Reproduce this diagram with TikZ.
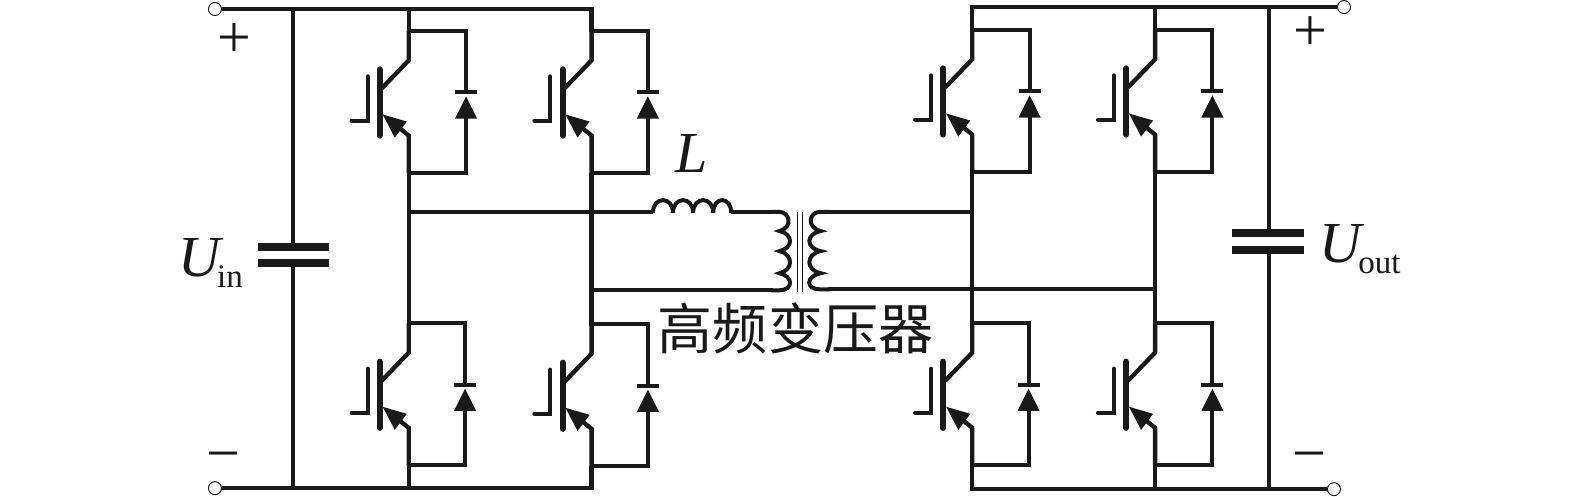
\documentclass[tikz,border=0pt]{standalone}
\usepackage{fontspec}
\setmainfont{Liberation Serif}
\newfontfamily\cjkfont{Noto Sans CJK SC}[Scale=1]
\usetikzlibrary{calc}
\tikzset{
  x=1bp,y=-1bp,
  wire/.style={line width=4.3pt,line cap=butt,line join=miter,black!90},
  loopwire/.style={line width=4pt,line join=miter,black!90},
  thickbar/.style={line width=6pt,line cap=round,black!90},
  gatewire/.style={line width=4pt,line cap=round,black!90},
  plate/.style={line width=8pt,black!90},
  terminal/.style={circle,draw=black!90,fill=white,line width=1pt,minimum size=13pt,inner sep=0pt},
  lbl/.style={inner sep=0pt,text=black!90},
  pics/igbtcell/.style args={#1}{code={
    \coordinate (-c) at (0,0);
    \coordinate (-e) at (0,163);
    \draw[wire] (0,22) -- (0,51) -- (-27,79);
    \draw[wire] (0,163) -- (0,126) -- (-10,118);
    \fill[black!90] (-26,105) -- (-2,112) -- (-14,128) -- cycle;
    \draw[thickbar] (-29,60) -- (-29,126);
    \draw[gatewire] (-41,67) -- (-41,111) -- (-57,111);
    \draw[loopwire] (-2,22) -- (#1,22) -- (#1,83);
    \draw[loopwire] (#1,108) -- (#1,163) -- (-2,163);
    \fill[black!90] (#1,87) -- (#1+11,109) -- (#1-11,109) -- cycle;
    \draw[line width=4pt,black!90] (#1-11,83) -- (#1+11,83);
  }}
}
\begin{document}
\begin{tikzpicture}
\useasboundingbox (0,0) rectangle (1568,494);
% switch cells
\pic (qa) at (407,9) {igbtcell={57}};
\pic (qb) at (589,9) {igbtcell={56}};
\pic (qc) at (407,300) {igbtcell={56}};
\pic (qd) at (589,301) {igbtcell={56}};
\pic (qe) at (968,8) {igbtcell={57}};
\pic (qf) at (1150,8) {igbtcell={57}};
\pic (qg) at (968,300) {igbtcell={56}};
\pic (qh) at (1150,300) {igbtcell={57}};
% terminals
\node[terminal] (tl1) at (214,9) {};
\node[terminal] (tl2) at (214,486) {};
\node[terminal] (tr1) at (1338,7) {};
\node[terminal] (tr2) at (1328,487) {};
% junctions
\coordinate (capl) at (292,9);
\coordinate (caplb) at (292,486);
\coordinate (capr) at (1263,7);
\coordinate (caprb) at (1263,487);
% buses
\draw[wire] (tl1) -- (591,9);
\draw[wire] (tl2) -- (591,486);
\draw[wire] (966,7) -- (tr1);
\draw[wire] (966,487) -- (tr2);
% leg verticals
\draw[wire] (qa-c) -- ($(qa-c)+(0,23)$);
\draw[wire] (qb-c) -- ($(qb-c)+(0,23)$);
\draw[wire] (968,7) -- ($(qe-c)+(0,23)$);
\draw[wire] (1150,7) -- ($(qf-c)+(0,23)$);
\draw[wire] (qa-e) -- ($(qc-c)+(0,24)$);
\draw[wire] (qb-e) -- ($(qd-c)+(0,24)$);
\draw[wire] (qe-e) -- ($(qg-c)+(0,24)$);
\draw[wire] (qf-e) -- ($(qh-c)+(0,24)$);
\draw[wire] (qc-e) -- (407,488);
\draw[wire] (qd-e) -- (589,488);
\draw[wire] (qg-e) -- (968,489);
\draw[wire] (qh-e) -- (1150,489);
% capacitors
\draw[wire] (capl) -- (292,246);
\draw[wire] (292,262) -- (caplb);
\draw[plate] (257,246) -- (328,246);
\draw[plate] (257,262) -- (328,262);
\draw[wire] (capr) -- (1263,232);
\draw[wire] (1263,249) -- (caprb);
\draw[plate] (1227,232) -- (1298,232);
\draw[plate] (1227,249) -- (1298,249);
% mid lines, inductor and transformer
\draw[wire] (405,211) -- (650,211);
\draw[wire] (587,289) -- (770,289);
\draw[loopwire] (650,212)
  .. controls (650,195) and (670,195) .. (670,212)
  .. controls (670,195) and (690,195) .. (690,212)
  .. controls (690,195) and (710,195) .. (710,212)
  .. controls (710,195) and (728,195) .. (728,212);
\draw[wire] (728,211) -- (770,211);
\draw[loopwire] (768,211) -- (776,211)
  .. controls (786,211) and (790,226) .. (776,230)
  .. controls (790,233) and (790,247) .. (776,250)
  .. controls (790,253) and (790,269) .. (776,272)
  .. controls (790,275) and (790,289) .. (776,289) -- (768,289);
\draw[loopwire] (826,211) -- (816,211)
  .. controls (806,211) and (802,226) .. (817,230)
  .. controls (802,233) and (802,247) .. (817,250)
  .. controls (802,253) and (802,269) .. (817,272)
  .. controls (802,275) and (802,288) .. (816,288) -- (826,288);
\draw[black!90,line width=1pt] (794,211) -- (794,291);
\draw[black!90,line width=1pt] (799,211) -- (799,291);
\draw[wire] (824,211) -- (970,211);
\draw[wire] (824,288) -- (1152,288);
% labels
\node[lbl,font=\fontsize{60}{60}\selectfont] (plusl) at (233,40) {+};
\node[lbl,font=\fontsize{60}{60}\selectfont] (minusl) at (222,461) {−};
\node[lbl,font=\fontsize{60}{60}\selectfont] (plusr) at (1305,33) {+};
\node[lbl,font=\fontsize{60}{60}\selectfont] (minusr) at (1304,461) {−};
\node[lbl,font=\fontsize{58}{58}\selectfont\itshape,anchor=base west] (uin) at (178,275) {U};
\node[lbl,font=\fontsize{33}{33}\selectfont,anchor=base west] (uinsub) at (216,286) {in};
\node[lbl,font=\fontsize{58}{58}\selectfont\itshape,anchor=base west] (uout) at (1313,261) {U};
\node[lbl,font=\fontsize{33}{33}\selectfont,anchor=base west] (uoutsub) at (1352,272) {out};
\node[lbl,font=\fontsize{58}{58}\selectfont\itshape,anchor=base west] (ind) at (672,172) {L};
\node[lbl,font=\fontsize{55}{55}\cjkfont] (xf) at (792,327) {高频变压器};
\end{tikzpicture}
\end{document}
